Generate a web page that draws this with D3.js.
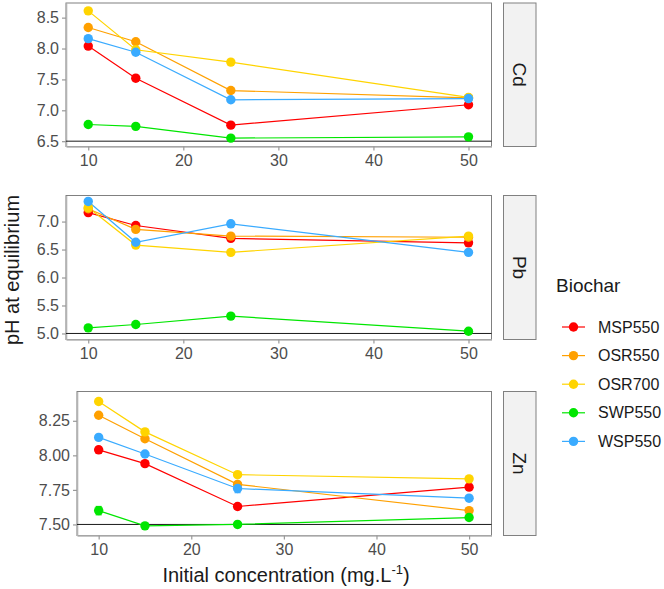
<!DOCTYPE html>
<html>
<head>
<meta charset="utf-8">
<script src="https://cdn.jsdelivr.net/npm/d3@7"></script>
<style>
  body { margin: 0; background: #fff; }
  text { font-family: "Liberation Sans", Arial, sans-serif; }
</style>
</head>
<body>
<svg width="664" height="589"></svg>
<script>
// data
let concentrations = [10, 15, 25, 50];
let biochars = ["MSP550", "OSR550", "OSR700", "SWP550", "WSP550"];
let biocharColors = ["#ff0000", "#ffa000", "#ffd400", "#00e600", "#3aabff"];

// rows follow biochars order
let cdPH = [
    [8.04, 7.52, 6.76, 7.09],
    [8.34, 8.11, 7.32, 7.20],
    [8.61, 7.98, 7.78, 7.21],
    [6.77, 6.74, 6.55, 6.57],
    [8.16, 7.94, 7.17, 7.19]
];
let pbPH = [
    [7.16, 6.93, 6.70, 6.62],
    [7.23, 6.86, 6.74, 6.72],
    [7.25, 6.58, 6.45, 6.74],
    [5.10, 5.16, 5.31, 5.04],
    [7.36, 6.63, 6.96, 6.45]
];
let znPH = [
    [8.04, 7.94, 7.63, 7.77],
    [8.29, 8.12, 7.79, 7.60],
    [8.39, 8.17, 7.86, 7.83],
    [7.60, 7.49, 7.50, 7.55],
    [8.13, 8.01, 7.76, 7.69]
];
let znSD = [
    [0.02, 0, 0, 0],
    [0, 0, 0.02, 0],
    [0, 0, 0, 0],
    [0.03, 0, 0, 0],
    [0, 0, 0.03, 0]
];

let metals = ["Cd", "Pb", "Zn"];
let baselines = [6.5, 5.0, 7.5];
let yTicks = [[6.5, 7.0, 7.5, 8.0, 8.5], [5.0, 5.5, 6.0, 6.5, 7.0], [7.5, 7.75, 8.0, 8.25]];
let xTicks = [10, 20, 30, 40, 50];

let svg = d3.select("svg"),
    width = +svg.attr("width"),
    height = +svg.attr("height");

// panel layout
let panels = [
    {name: "Cd", values: cdPH, sd: null, left: 66, top: 3, bottom: 146.5, ydom: [6.414, 8.737], fmt: ".1f"},
    {name: "Pb", values: pbPH, sd: null, left: 66, top: 195.5, bottom: 339.5, ydom: [4.892, 7.466], fmt: ".1f"},
    {name: "Zn", values: znPH, sd: znSD, left: 77, top: 391.5, bottom: 535.5, ydom: [7.42, 8.462], fmt: ".2f"}
];
let right = 491.5;

panels.forEach(function (p, i) {

    let x = d3.scaleLinear().domain([7.66, 52.42]).range([p.left, right]);
    let y = d3.scaleLinear().domain(p.ydom).range([p.bottom, p.top]);

    let g = svg.append("g").attr("class", "panel");

    g.append("rect")
        .attr("x", p.left).attr("y", p.top)
        .attr("width", right - p.left).attr("height", p.bottom - p.top)
        .attr("fill", "#fff").attr("stroke", "#808080").attr("stroke-width", 1);

    // x axis
    let xa = g.append("g")
        .attr("transform", "translate(0," + p.bottom + ")")
        .call(d3.axisBottom(x).tickValues(xTicks).tickSizeInner(4).tickSizeOuter(0).tickPadding(4));
    // y axis
    let ya = g.append("g")
        .attr("transform", "translate(" + p.left + ",0)")
        .call(d3.axisLeft(y).tickValues(yTicks[i]).tickFormat(d3.format(p.fmt)).tickSizeInner(4).tickSizeOuter(0).tickPadding(3));

    [xa, ya].forEach(function (a) {
        a.select(".domain").attr("stroke", "#b3b3b3").attr("stroke-width", 1.6);
        a.selectAll(".tick line").attr("stroke", "#999").attr("stroke-width", 1.2);
        a.selectAll(".tick text").attr("fill", "#4d4d4d").style("font-size", "16px");
    });

    // reference line
    g.append("line")
        .attr("x1", p.left).attr("x2", right)
        .attr("y1", y(baselines[i])).attr("y2", y(baselines[i]))
        .attr("stroke", "#1a1a1a").attr("stroke-width", 1);

    let line = d3.line()
        .x((d, j) => x(concentrations[j]))
        .y(d => y(d));

    g.selectAll("path.series")
        .data(p.values)
        .enter().append("path")
            .attr("class", "series")
            .attr("d", line)
            .attr("fill", "none")
            .attr("stroke", (d, k) => biocharColors[k])
            .attr("stroke-width", 1.2);

    if (p.sd) {
        p.values.forEach(function (row, k) {
            row.forEach(function (v, j) {
                let s = p.sd[k][j];
                if (!s) return;
                let cx = x(concentrations[j]);
                let eb = g.append("g").attr("stroke", biocharColors[k]).attr("stroke-width", 1.2);
                eb.append("line").attr("x1", cx).attr("x2", cx).attr("y1", y(v - s)).attr("y2", y(v + s));
                eb.append("line").attr("x1", cx - 3).attr("x2", cx + 3).attr("y1", y(v - s)).attr("y2", y(v - s));
                eb.append("line").attr("x1", cx - 3).attr("x2", cx + 3).attr("y1", y(v + s)).attr("y2", y(v + s));
            });
        });
    }

    p.values.forEach(function (row, k) {
        g.selectAll(null)
            .data(row)
            .enter().append("circle")
                .attr("cx", (d, j) => x(concentrations[j]))
                .attr("cy", d => y(d))
                .attr("r", 4.7)
                .attr("fill", biocharColors[k]);
    });

    // strip
    g.append("rect")
        .attr("x", 503.5).attr("y", p.top)
        .attr("width", 32.5).attr("height", p.bottom - p.top)
        .attr("fill", "#f2f2f2").attr("stroke", "#808080").attr("stroke-width", 1);
    let sy = (p.top + p.bottom) / 2;
    g.append("text")
        .attr("transform", "translate(519.7," + sy + ") rotate(90)")
        .attr("text-anchor", "middle")
        .attr("dy", "0.35em")
        .style("font-size", "19px")
        .attr("fill", "#1a1a1a")
        .text(p.name);
});

// axis titles
let xt = svg.append("text")
    .attr("x", 286).attr("y", 582)
    .attr("text-anchor", "middle")
    .style("font-size", "20px")
    .attr("fill", "#1a1a1a");
xt.append("tspan").text("Initial concentration (mg.L");
xt.append("tspan").attr("dy", -8).style("font-size", "13px").text("-1");
xt.append("tspan").attr("dy", 8).text(")");

svg.append("text")
    .attr("transform", "translate(19,270) rotate(-90)")
    .attr("text-anchor", "middle")
    .style("font-size", "20px")
    .attr("fill", "#1a1a1a")
    .text("pH at equilibrium");

// legend
let legend = svg.append("g").attr("transform", "translate(556,0)");
legend.append("text")
    .attr("x", 0).attr("y", 292)
    .style("font-size", "19px")
    .attr("fill", "#1a1a1a")
    .text("Biochar");

let items = legend.selectAll("g.item")
    .data(biochars)
    .enter().append("g")
        .attr("class", "item")
        .attr("transform", (d, k) => "translate(0," + (327 + k * 28.6) + ")");
items.append("line")
    .attr("x1", 6).attr("x2", 29).attr("y1", 0).attr("y2", 0)
    .attr("stroke", (d, k) => biocharColors[k]).attr("stroke-width", 1.2);
items.append("circle")
    .attr("cx", 17.5).attr("cy", 0).attr("r", 4.7)
    .attr("fill", (d, k) => biocharColors[k]);
items.append("text")
    .attr("x", 42).attr("y", 0).attr("dy", "0.35em")
    .style("font-size", "16px")
    .attr("fill", "#1a1a1a")
    .text(d => d);
</script>
</body>
</html>
